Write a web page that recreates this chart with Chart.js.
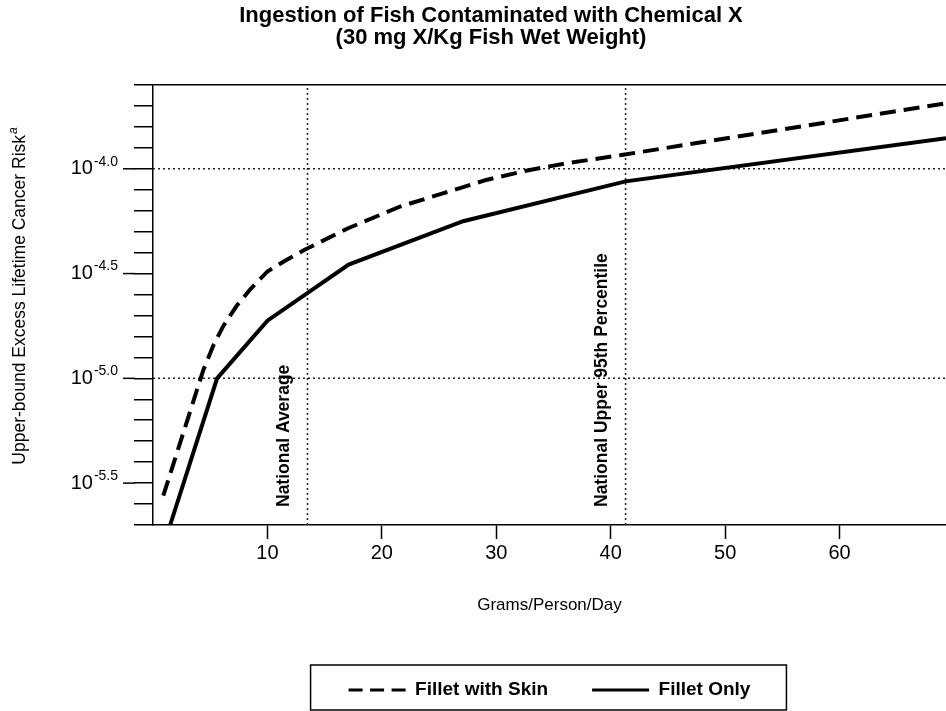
<!DOCTYPE html>
<html lang="en">
<head>
<meta charset="UTF-8">
<title>Ingestion of Fish Contaminated with Chemical X</title>
<style>
  body { margin: 0; background: #fff; }
  #wrap { width: 946px; height: 711px; }
</style>
<script src="https://cdn.jsdelivr.net/npm/chart.js"></script>
</head>
<body>
<div id="wrap"><canvas id="risk-chart"></canvas></div>
<script>
const titleLines = ['Ingestion of Fish Contaminated with Chemical X', '(30 mg X/Kg Fish Wet Weight)'];
const xTitle = 'Grams/Person/Day';
const yTitle = 'Upper-bound Excess Lifetime Cancer Risk';
const yTitleSup = 'a';
const seriesNames = ['Fillet with Skin', 'Fillet Only'];

// grams/person/day and log10(risk)
const skinGrams = [0.9, 4.4, 5.3, 6.15, 7.3, 8.5, 10, 11.5, 13.3, 17, 21.6, 25.4, 29.2, 32.7, 36.2, 41.1, 55, 69.3];
const skinRisk = [-5.56, -4.96, -4.84, -4.75, -4.655, -4.575, -4.49, -4.44, -4.385, -4.285, -4.18, -4.116, -4.052, -4.008, -3.973, -3.933, -3.812, -3.687];
const filletGrams = [1.5, 5.6, 10, 17.1, 27.1, 41.3, 69.3];
const filletRisk = [-5.70, -5.0, -4.725, -4.457, -4.25, -4.06, -3.854];

// reference lines
const refGrams = [13.5, 41.3];
const refNames = ['National Average', 'National Upper 95th Percentile'];
const refRisk = [-4.0, -5.0];

const xRange = [0, 69.3];
const yRange = [-5.7, -3.6];
const xTicks = [10, 20, 30, 40, 50, 60];
const yMajorTicks = [-4.0, -4.5, -5.0, -5.5];
const yMinorTicks = [];
for (let i = -57; i <= -36; i++) yMinorTicks.push(i / 10);

const FONT = '"Liberation Sans", Arial, sans-serif';
Chart.defaults.font.family = FONT;
Chart.defaults.color = '#000';

const toPoints = (xs, ys) => xs.map((x, i) => ({ x: x, y: ys[i] }));

const refStyle = { borderColor: '#222', borderWidth: 1.5, borderDash: [2, 3], pointRadius: 0, fill: false };
const refSets = [];
refGrams.forEach((g, i) => {
  refSets.push(Object.assign({ label: refNames[i], data: [{ x: g, y: yRange[0] }, { x: g, y: yRange[1] }] }, refStyle));
});
refRisk.forEach(r => {
  refSets.push(Object.assign({ label: 'ref ' + r, data: [{ x: xRange[0], y: r }, { x: xRange[1], y: r }] }, refStyle));
});

const decor = {
  id: 'decor',
  afterDraw(chart) {
    const ctx = chart.ctx;
    const xs = chart.scales.x, ys = chart.scales.y;
    const area = chart.chartArea;
    ctx.save();
    ctx.fillStyle = '#000';
    ctx.strokeStyle = '#000';

    // longer marks for the labelled ticks, and 10^n labels
    ctx.lineWidth = 1.5;
    yMajorTicks.forEach(v => {
      const py = ys.getPixelForValue(v);
      ctx.beginPath();
      ctx.moveTo(area.left - 30, py);
      ctx.lineTo(area.left - 18, py);
      ctx.stroke();
      const right = area.left - 35;
      ctx.textBaseline = 'middle';
      ctx.textAlign = 'right';
      ctx.font = '14px ' + FONT;
      const sup = v.toFixed(1);
      const supW = ctx.measureText(sup).width;
      ctx.fillText(sup, right, py - 7);
      ctx.font = '20px ' + FONT;
      ctx.fillText('10', right - supW - 1, py);
    });

    // rotated labels beside the reference lines
    ctx.font = 'bold 17.5px ' + FONT;
    ctx.textAlign = 'left';
    ctx.textBaseline = 'middle';
    refGrams.forEach((g, i) => {
      const px = xs.getPixelForValue(g) - 23;
      ctx.save();
      ctx.translate(px, area.bottom - 18);
      ctx.rotate(-Math.PI / 2);
      ctx.fillText(refNames[i], 0, 0);
      ctx.restore();
    });

    // y axis title with its superscript
    ctx.font = '17.5px ' + FONT;
    const tw = ctx.measureText(yTitle).width;
    ctx.font = 'italic 12px ' + FONT;
    const sw = ctx.measureText(yTitleSup).width;
    const cy = (area.top + area.bottom) / 2 - 9;
    ctx.save();
    ctx.translate(area.left - 133, cy + (tw + sw + 1) / 2);
    ctx.rotate(-Math.PI / 2);
    ctx.textAlign = 'left';
    ctx.font = '17.5px ' + FONT;
    ctx.fillText(yTitle, 0, 0);
    ctx.font = 'italic 12px ' + FONT;
    ctx.fillText(yTitleSup, tw + 1, -6);
    ctx.restore();

    // frame round the legend
    const boxes = chart.legend.legendHitBoxes;
    if (boxes && boxes.length) {
      const first = boxes[0], last = boxes[boxes.length - 1];
      const l = first.left - 38, r = last.left + last.width + 36;
      const t = first.top - 15.5, b = first.top + first.height + 10.5;
      ctx.lineWidth = 1.5;
      ctx.strokeRect(l, t, r - l, b - t);
    }
    ctx.restore();
  }
};

new Chart(document.getElementById('risk-chart'), {
  type: 'line',
  data: {
    datasets: [
      { label: seriesNames[0], data: toPoints(skinGrams, skinRisk), borderColor: '#000', borderWidth: 4, borderDash: [16, 8], pointRadius: 0, fill: false },
      { label: seriesNames[1], data: toPoints(filletGrams, filletRisk), borderColor: '#000', borderWidth: 4, pointRadius: 0, fill: false }
    ].concat(refSets)
  },
  options: {
    responsive: true,
    maintainAspectRatio: false,
    animation: false,
    layout: { padding: { left: 36, right: 0, top: 0, bottom: 1.5 } },
    scales: {
      x: {
        type: 'linear', min: xRange[0], max: xRange[1],
        afterBuildTicks: s => { s.ticks = xTicks.map(v => ({ value: v })); },
        afterFit: s => { s.height = 111.5; },
        grid: { drawOnChartArea: false, tickLength: 14, tickColor: '#000', tickWidth: 1.5 },
        border: { color: '#000', width: 1.5 },
        ticks: { color: '#000', font: { size: 20 }, padding: 2, maxRotation: 0, autoSkip: false },
        title: { display: true, text: xTitle, color: '#000', font: { size: 17 }, padding: { top: 0, bottom: 21 } }
      },
      y: {
        type: 'linear', min: yRange[0], max: yRange[1],
        afterBuildTicks: s => { s.ticks = yMinorTicks.map(v => ({ value: v })); },
        afterFit: s => { s.width = 117; },
        grid: {
          color: c => (c.tick && Math.abs(c.tick.value - yRange[1]) < 1e-6) ? '#000' : 'rgba(0,0,0,0)',
          lineWidth: 1.5, tickLength: 19, tickColor: '#000', tickWidth: 1.5, tickBorderDash: []
        },
        border: { color: '#000', width: 1.5 },
        ticks: { display: false },
        title: { display: false }
      }
    },
    plugins: {
      title: {
        display: true, text: titleLines, color: '#000',
        font: { size: 22, weight: 'bold', lineHeight: 1.0 },
        padding: { top: 4.5, bottom: 36.5 }
      },
      legend: {
        position: 'bottom',
        fullSize: false,
        labels: {
          usePointStyle: true, pointStyle: 'line', pointStyleWidth: 57, boxWidth: 57,
          padding: 44, color: '#000', font: { size: 19, weight: 'bold' },
          filter: item => seriesNames.includes(item.text),
          generateLabels: chart => {
            const items = Chart.defaults.plugins.legend.labels.generateLabels(chart);
            items.forEach(it => {
              const ds = chart.data.datasets[it.datasetIndex];
              it.lineDash = ds.borderDash ? [14, 7.5] : [];
              it.lineWidth = 3;
              it.strokeStyle = '#000';
              it.pointStyle = 'line';
            });
            return items;
          }
        }
      },
      tooltip: { enabled: false }
    }
  },
  plugins: [decor]
});
</script>
</body>
</html>
